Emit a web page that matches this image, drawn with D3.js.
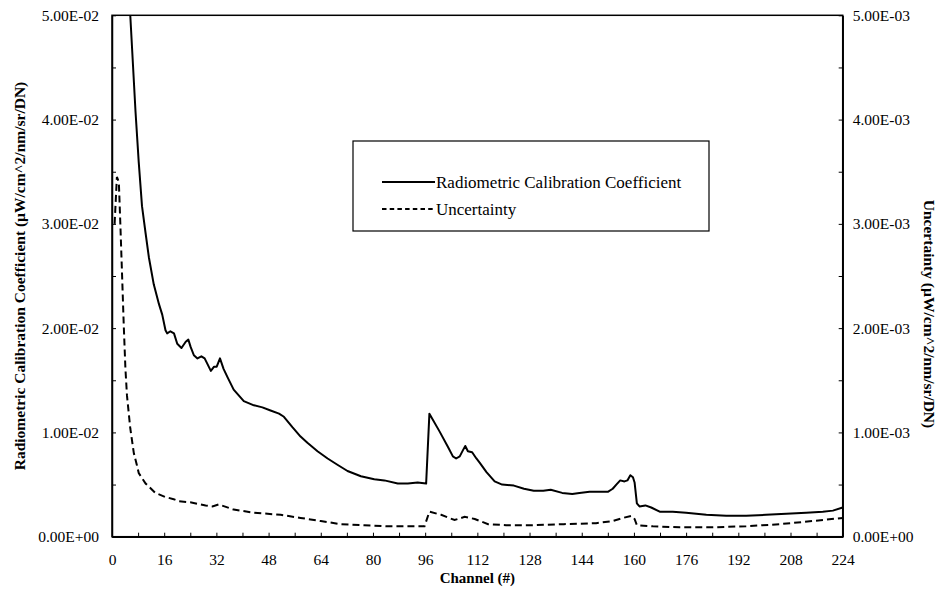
<!DOCTYPE html>
<html>
<head>
<meta charset="utf-8">
<script src="https://cdn.jsdelivr.net/npm/d3@7/dist/d3.min.js"></script>
<style>
  html, body { margin: 0; padding: 0; background: #fff; }
  svg { display: block; font-family: "Liberation Serif", "Times New Roman", serif; }
  svg text { font-family: "Liberation Serif", "Times New Roman", serif; }
</style>
</head>
<body>
<svg id="chart" width="939" height="594"></svg>
<script>
// ---- data ----
const coefChannels = [4.8, 5.6, 7.2, 8.2, 9.2, 10.3, 11.3, 12.8, 14.4, 15.4, 16.4, 16.9, 17.9, 19.0, 20.0, 21.3, 22.6, 23.4, 24.1, 25.1, 26.2, 27.4, 28.4, 29.2, 30.3, 31.3, 32.1, 33.1, 34.2, 35.4, 37.3, 40.4, 43.5, 46.1, 48.6, 51.2, 52.7, 55.3, 57.8, 59.9, 63.0, 66.1, 69.1, 72.2, 76.3, 80.4, 83.5, 87.6, 90.7, 93.7, 96.3, 97.3, 100.4, 103.0, 104.5, 105.5, 106.6, 107.6, 108.3, 109.1, 110.4, 111.7, 112.7, 114.8, 117.3, 119.6, 123.2, 126.3, 129.3, 132.2, 134.5, 138.0, 141.1, 143.3, 146.4, 149.5, 152.0, 153.5, 154.6, 155.8, 157.1, 158.0, 158.9, 159.7, 160.2, 160.9, 161.7, 163.5, 165.3, 167.9, 171.9, 176.0, 182.2, 188.3, 194.4, 200.5, 206.7, 212.8, 217.9, 221.0, 224.0];
const coefValues = [0.0545, 0.0500, 0.0408, 0.0359, 0.0317, 0.0291, 0.0268, 0.0242, 0.0223, 0.0213, 0.0198, 0.0195, 0.0197, 0.0195, 0.0185, 0.0181, 0.0187, 0.0189, 0.0182, 0.0174, 0.0171, 0.0173, 0.0171, 0.0166, 0.0159, 0.0163, 0.0163, 0.0171, 0.0161, 0.0153, 0.0141, 0.0130, 0.0126, 0.0124, 0.0121, 0.0118, 0.0115, 0.0105, 0.0096, 0.0090, 0.0082, 0.0075, 0.0069, 0.0063, 0.0058, 0.0055, 0.0054, 0.0051, 0.0051, 0.0052, 0.0051, 0.0118, 0.0101, 0.0086, 0.0077, 0.0075, 0.0077, 0.0083, 0.0087, 0.0082, 0.0081, 0.0075, 0.0071, 0.0062, 0.0053, 0.0050, 0.0049, 0.0046, 0.0044, 0.0044, 0.0045, 0.0042, 0.0041, 0.0042, 0.0043, 0.0043, 0.0043, 0.0046, 0.0050, 0.0054, 0.0053, 0.0054, 0.0059, 0.0057, 0.0052, 0.0032, 0.0029, 0.0030, 0.0028, 0.0024, 0.0024, 0.0023, 0.0021, 0.0020, 0.0020, 0.0021, 0.0022, 0.0023, 0.0024, 0.0025, 0.0028];

const uncChannels = [0.8, 1.5, 2.1, 2.6, 3.1, 3.6, 4.1, 4.6, 5.6, 6.7, 7.6, 8.2, 10.3, 13.3, 16.4, 18.9, 20.5, 24.0, 28.7, 30.8, 32.7, 37.3, 43.5, 51.7, 57.8, 64.0, 70.2, 77.3, 84.5, 95.8, 97.3, 100.9, 105.0, 108.1, 111.2, 115.3, 120.8, 128.0, 138.5, 148.4, 153.5, 156.6, 159.2, 160.2, 160.9, 165.8, 174.0, 184.2, 194.4, 204.6, 214.8, 224.0];
const uncValues = [0.00300, 0.00345, 0.00340, 0.00296, 0.00250, 0.00203, 0.00162, 0.00135, 0.00104, 0.00080, 0.00069, 0.00061, 0.00051, 0.00042, 0.00038, 0.00036, 0.00034, 0.00033, 0.00030, 0.00029, 0.00031, 0.00026, 0.00023, 0.00021, 0.00018, 0.00015, 0.00012, 0.00011, 0.00010, 0.00010, 0.00024, 0.00021, 0.00016, 0.00019, 0.00017, 0.00012, 0.00011, 0.00011, 0.00012, 0.00013, 0.00015, 0.00018, 0.00020, 0.00017, 0.00011, 0.00010, 0.00009, 0.00009, 0.00010, 0.00012, 0.00015, 0.00018];

const xTicks = [0, 8, 16, 24, 32, 40, 48, 56, 64, 72, 80, 88, 96, 104, 112, 120, 128, 136, 144, 152, 160, 168, 176, 184, 192, 200, 208, 216, 224];
const xTickLabels = ["0", "", "16", "", "32", "", "48", "", "64", "", "80", "", "96", "", "112", "", "128", "", "144", "", "160", "", "176", "", "192", "", "208", "", "224"];
const leftTicks = [0, 0.005, 0.01, 0.015, 0.02, 0.025, 0.03, 0.035, 0.04, 0.045, 0.05];
const leftTickLabels = ["0.00E+00", "", "1.00E-02", "", "2.00E-02", "", "3.00E-02", "", "4.00E-02", "", "5.00E-02"];
const rightTicks = [0, 0.0005, 0.001, 0.0015, 0.002, 0.0025, 0.003, 0.0035, 0.004, 0.0045, 0.005];
const rightTickLabels = ["0.00E+00", "", "1.00E-03", "", "2.00E-03", "", "3.00E-03", "", "4.00E-03", "", "5.00E-03"];

const seriesNames = ["Radiometric Calibration Coefficient", "Uncertainty"];
const xTitle = "Channel (#)";
const leftTitle = "Radiometric Calibration Coefficient (\u00B5W/cm^2/nm/sr/DN)";
const rightTitle = "Uncertainty (\u00B5W/cm^2/nm/sr/DN)";

// ---- layout ----
const L = 112, R = 842.7, T = 15.3, B = 536.7;
const svg = d3.select("#chart");

const x = d3.scaleLinear().domain([0, 224]).range([L, R]);
const yL = d3.scaleLinear().domain([0, 0.05]).range([B, T]);
const yR = d3.scaleLinear().domain([0, 0.005]).range([B, T]);

svg.append("defs").append("clipPath").attr("id", "plotclip")
  .append("rect").attr("x", L).attr("y", T).attr("width", R - L).attr("height", B - T);

// frame
svg.append("rect").attr("x", L).attr("y", T).attr("width", R - L).attr("height", B - T)
  .attr("fill", "none").attr("stroke", "#000").attr("stroke-width", 1.5);

const fontTick = "15.5px";

// axes
const xAxis = d3.axisBottom(x).tickValues(xTicks)
  .tickFormat((d, i) => xTickLabels[i]).tickSizeInner(-4).tickSizeOuter(0).tickPadding(17);
const gx = svg.append("g").attr("transform", `translate(0,${B})`).call(xAxis);

const lAxis = d3.axisLeft(yL).tickValues(leftTicks)
  .tickFormat((d, i) => leftTickLabels[i]).tickSizeInner(-4).tickSizeOuter(0).tickPadding(13);
const gl = svg.append("g").attr("transform", `translate(${L},0)`).call(lAxis);

const rAxis = d3.axisRight(yR).tickValues(rightTicks)
  .tickFormat((d, i) => rightTickLabels[i]).tickSizeInner(-4).tickSizeOuter(0).tickPadding(10);
const gr = svg.append("g").attr("transform", `translate(${R},0)`).call(rAxis);

[gx, gl, gr].forEach(g => {
  g.attr("font-family", null);
  g.select(".domain").attr("stroke", "#000").attr("stroke-width", 1.5);
  g.selectAll(".tick line").attr("stroke", "#000").attr("stroke-width", 1);
  g.selectAll(".tick text").attr("fill", "#000")
    .style("font-family", "'Liberation Serif', 'Times New Roman', serif")
    .style("font-size", fontTick);
});

// lines
const coefData = coefChannels.map((c, i) => [c, coefValues[i]]);
const uncData = uncChannels.map((c, i) => [c, uncValues[i]]);

const plot = svg.append("g").attr("clip-path", "url(#plotclip)");
plot.append("path").datum(coefData)
  .attr("d", d3.line().x(d => x(d[0])).y(d => yL(d[1])))
  .attr("fill", "none").attr("stroke", "#000").attr("stroke-width", 2).attr("stroke-linejoin", "round");
plot.append("path").datum(uncData)
  .attr("d", d3.line().x(d => x(d[0])).y(d => yR(d[1])))
  .attr("fill", "none").attr("stroke", "#000").attr("stroke-width", 2).attr("stroke-dasharray", "7,4");

// legend
const lg = svg.append("g");
lg.append("rect").attr("x", 353).attr("y", 141).attr("width", 356).attr("height", 90)
  .attr("fill", "#fff").attr("stroke", "#000").attr("stroke-width", 1.2);
lg.append("line").attr("x1", 382).attr("x2", 435).attr("y1", 182).attr("y2", 182)
  .attr("stroke", "#000").attr("stroke-width", 2);
lg.append("line").attr("x1", 382).attr("x2", 435).attr("y1", 209).attr("y2", 209)
  .attr("stroke", "#000").attr("stroke-width", 2).attr("stroke-dasharray", "4.5,3.2");
lg.append("text").attr("x", 436).attr("y", 187.5).text(seriesNames[0])
  .style("font-size", "17px").attr("fill", "#000");
lg.append("text").attr("x", 436).attr("y", 215).text(seriesNames[1])
  .style("font-size", "17px").attr("fill", "#000");

// titles
svg.append("text").attr("x", (L + R) / 2).attr("y", 583).attr("text-anchor", "middle")
  .style("font-weight", "bold").style("font-size", "15px").text(xTitle);
svg.append("text").attr("transform", `translate(25,${(T + B) / 2}) rotate(-90)`)
  .attr("text-anchor", "middle").style("font-weight", "bold").style("font-size", "15.5px").text(leftTitle);
svg.append("text").attr("transform", `translate(924,314) rotate(90)`)
  .attr("text-anchor", "middle").style("font-weight", "bold").style("font-size", "15.5px").text(rightTitle);
</script>
</body>
</html>
